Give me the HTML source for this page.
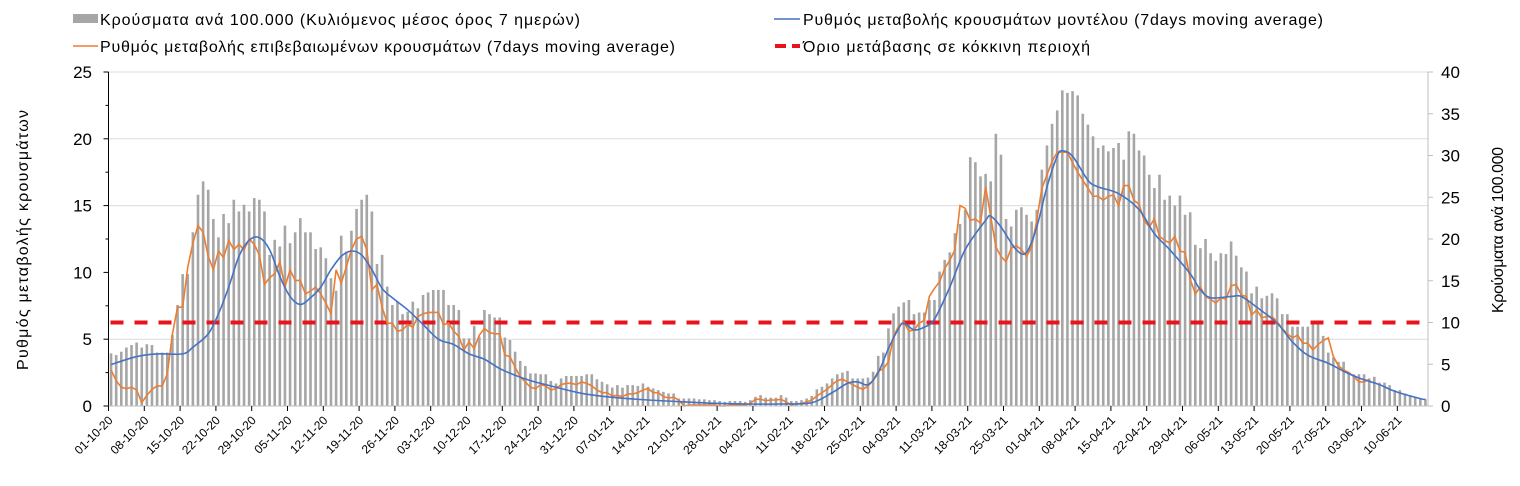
<!DOCTYPE html>
<html><head><meta charset="utf-8">
<style>
html,body{margin:0;padding:0;background:#fff;}
svg{display:block;font-family:"Liberation Sans",Arial,sans-serif;}
</style></head>
<body>
<svg id="chart" width="1520" height="486" viewBox="0 0 1520 486" xmlns="http://www.w3.org/2000/svg">
  <g id="grid"></g>
  <g id="bars"></g>
  <path id="threshold" fill="none" stroke="#e8141b" stroke-width="4" stroke-dasharray="13 11"/>
  <path id="orange" fill="none" stroke="#ed7d31" stroke-width="1.6"/>
  <path id="blue" fill="none" stroke="#4472c4" stroke-width="1.6"/>
  <g id="axes"></g>
  <text transform="translate(28,240) rotate(-90)" text-anchor="middle" font-size="16" textLength="260" fill="#000">Ρυθμός μεταβολής κρουσμάτων</text>
  <text transform="translate(1503,230) rotate(-90)" text-anchor="middle" font-size="16" textLength="166" fill="#000">Κρούσματα ανά 100.000</text>
  <g>
    <g>
      <rect x="73" y="14" width="25" height="9" fill="#a6a6a6"/>
      <text x="100" y="25" font-size="16" textLength="480" fill="#000">Κρούσματα ανά 100.000 (Κυλιόμενος μέσος όρος 7 ημερών)</text>
    </g>
    <g>
      <line x1="73" y1="46" x2="98" y2="46" stroke="#ed7d31" stroke-width="1.6"/>
      <text x="100" y="52" font-size="16" textLength="575" fill="#000">Ρυθμός μεταβολής επιβεβαιωμένων κρουσμάτων (7days moving average)</text>
    </g>
    <g>
      <line x1="774" y1="19" x2="800" y2="19" stroke="#4472c4" stroke-width="1.6"/>
      <text x="803" y="25" font-size="16" textLength="520" fill="#000">Ρυθμός μεταβολής κρουσμάτων μοντέλου (7days moving average)</text>
    </g>
    <g>
      <line x1="775" y1="46" x2="800" y2="46" stroke="#e8141b" stroke-width="4" stroke-dasharray="11 6"/>
      <text x="803" y="52" font-size="16" textLength="287" fill="#000">Όριο μετάβασης σε κόκκινη περιοχή</text>
    </g>
  </g>
</svg>
<script>
// ---- data ----
const barValues = [
6.3,6.1,6.5,7.0,7.3,7.6,7.0,7.4,7.3,6.4,
6.4,6.4,8.5,12.1,15.8,15.8,20.8,25.3,26.9,25.9,
22.4,20.2,23.0,21.9,24.7,23.3,24.1,23.3,24.9,24.7,
23.3,18.1,19.9,19.1,21.6,19.5,20.8,22.5,20.8,20.8,
18.8,19.0,17.7,15.3,13.8,20.4,18.5,21.0,23.6,24.7,
25.3,23.3,17.0,18.1,14.3,12.1,12.5,11.0,11.3,12.5,
11.7,13.3,13.6,13.9,13.9,13.9,12.1,12.1,11.5,8.1,
8.1,9.6,8.3,
11.5,11.0,10.6,10.6,8.2,7.9,6.5,5.4,4.8,3.9,
3.9,3.8,3.8,3.0,2.7,3.3,3.6,3.6,3.6,3.6,
3.8,3.8,3.2,2.9,2.6,2.2,2.5,2.2,2.5,2.5,
2.4,2.7,2.3,2.1,1.9,1.7,1.5,1.5,0.9,0.9,
0.9,0.9,0.8,0.8,0.7,0.7,0.6,0.5,0.6,0.6,
0.6,0.5,0.7,1.1,1.3,1.0,1.0,1.0,1.3,1.0,
0.6,0.6,0.7,0.9,1.2,2.0,2.3,2.7,3.3,3.8,
4.0,4.2,3.3,3.3,3.3,3.4,4.1,6.0,6.4,9.3,
11.1,11.9,
12.4,12.7,11.0,11.2,11.2,12.7,12.7,16.1,17.5,18.4,
20.7,21.8,23.5,29.8,29.2,27.5,27.8,26.9,32.6,30.1,
22.4,21.5,23.5,23.8,22.9,22.1,23.5,28.3,31.2,33.8,
35.4,37.8,37.5,37.7,37.2,35.0,33.7,32.3,30.9,31.2,
30.5,30.9,31.5,29.5,32.9,32.6,30.6,30.0,27.7,26.1,
27.7,24.7,25.2,24.0,25.2,22.9,23.2,19.3,18.9,20.0,
18.3,17.4,18.3,18.2,19.7,18.0,16.6,16.1,13.5,14.3,
12.9,13.2,13.5,12.9,11.0,11.0,9.5,9.5,9.5,9.5,
10.1,10.1,8.4,6.4,5.8,5.3,5.3,4.1,3.8,3.8,
3.8,3.3,3.5,2.8,2.8,2.5,1.9,1.9,1.5,1.3,
1.1,0.9,0.8
];
const orangeValues = [
2.7,1.9,1.4,1.3,1.4,1.2,0.25,0.8,1.25,1.5,
1.5,2.4,5.4,7.4,7.4,10.4,12.2,13.5,13.0,11.2,
10.2,11.6,11.1,12.4,11.7,12.1,11.7,12.5,12.1,11.3,
9.1,9.6,9.9,10.8,8.9,10.2,9.4,9.4,8.4,8.6,
8.9,8.4,7.7,6.9,10.2,9.2,10.4,11.7,12.5,12.7,
11.7,8.7,9.1,7.4,6.2,6.2,5.6,5.7,6.1,5.9,
6.7,6.9,7.0,7.0,7.0,6.1,6.2,5.6,5.2,4.2,
4.8,4.3,5.3,
5.8,5.5,5.4,5.4,3.8,3.7,2.9,2.2,1.8,1.4,
1.3,1.6,1.5,1.2,1.3,1.6,1.7,1.7,1.6,1.8,
1.7,1.5,1.2,1.0,1.0,0.75,0.8,0.7,0.9,0.9,
1.0,1.2,1.3,1.0,1.0,0.7,0.6,0.65,0.45,0.0,
0.07,0.07,0.07,0.07,0.07,0.07,0.0,0.0,0.05,0.1,
0.1,0.05,0.2,0.5,0.5,0.4,0.45,0.45,0.5,0.3,
0.07,0.15,0.2,0.3,0.45,0.75,1.0,1.25,1.6,1.9,
2.0,1.8,1.6,1.4,1.25,1.5,1.9,2.6,2.8,3.3,
5.2,
6.0,6.3,5.6,5.7,6.2,6.4,8.2,8.8,9.3,10.3,
10.9,11.7,15.0,14.8,13.9,14.0,13.7,16.4,14.2,11.9,
11.2,10.8,11.8,12.0,11.7,11.2,11.9,13.9,16.3,17.3,18.3,
19.0,19.0,19.0,18.2,17.5,16.9,16.3,15.7,15.7,15.4,
15.7,15.8,15.0,16.5,16.5,15.4,15.1,13.9,13.4,14.0,
12.7,12.4,12.2,12.7,11.6,11.5,9.5,8.4,8.9,8.2,
8.0,7.7,8.1,8.0,9.0,9.1,8.3,8.2,6.8,7.2,6.6,
6.7,6.7,6.3,5.8,5.4,5.1,5.3,4.7,4.7,4.2,
4.6,4.9,5.1,3.7,3.0,2.7,2.5,2.2,1.8,1.8,2.0
];
const blueDays = [0,5,9,14,16,19,21,23,25,27,29,31,33,35,37,39,41,43,45,47,49,51,53,55,58,61,64,67,70,73,76,79,82,85,92,98,105,111,118,124,131,137,141,144,146,148,150,152,154,155,157,159,161,164,167,171,172,174,177,179,181,183,185,186,188,191,193,197,201,204,207,211,213,215,219,221,224,228,231,234,238,241,244,248,251,256,257];
const blueValues = [3.1,3.7,3.9,3.9,4.4,5.4,6.9,8.9,11.2,12.4,12.6,11.7,9.7,8.2,7.6,8.1,8.9,10.2,11.2,11.6,11.3,10.2,8.8,8.1,7.2,6.1,5.0,4.6,3.9,3.5,2.8,2.3,1.9,1.6,0.95,0.65,0.45,0.33,0.2,0.15,0.15,0.25,1.0,1.7,1.8,1.6,2.5,4.3,5.8,6.2,5.7,5.9,6.5,8.9,11.7,13.9,14.2,13.4,11.7,11.5,13.4,16.4,18.7,19.1,18.7,16.9,16.4,15.9,14.7,12.9,11.7,9.9,8.7,8.1,8.2,8.2,7.4,6.2,4.8,3.8,3.2,2.6,2.1,1.6,1.1,0.55,0.5];
const thresholdValue = 10; // right axis (cases per 100.000)
const leftTicks = [0,5,10,15,20,25];
const rightTicks = [0,5,10,15,20,25,30,35,40];
const gridValues = [5,15,20,25];
const dateLabels = ["01-10-20","08-10-20","15-10-20","22-10-20","29-10-20","05-11-20","12-11-20","19-11-20","26-11-20","03-12-20","10-12-20","17-12-20","24-12-20","31-12-20","07-01-21","14-01-21","21-01-21","28-01-21","04-02-21","11-02-21","18-02-21","25-02-21","04-03-21","11-03-21","18-03-21","25-03-21","01-04-21","08-04-21","15-04-21","22-04-21","29-04-21","06-05-21","13-05-21","20-05-21","27-05-21","03-06-21","10-06-21"];

// ---- scales ----
const X0 = 108.5, X1 = 1428, Y0 = 406, YT = 72, NDAYS = 258;
const dayW = (X1 - X0) / NDAYS;
const xDay = d => X0 + (d + 0.5) * dayW;
const xEdge = d => X0 + d * dayW;
const yL = v => Y0 - v / 25 * (Y0 - YT);
const yR = v => Y0 - v / 40 * (Y0 - YT);
const NS = "http://www.w3.org/2000/svg";
function mk(tag, attrs, parent) {
  const e = document.createElementNS(NS, tag);
  for (const k in attrs) e.setAttribute(k, attrs[k]);
  parent.appendChild(e);
  return e;
}

// grid
const grid = document.getElementById('grid');
gridValues.forEach(v => {
  const l = mk('line', {x1: X0, x2: X1, y1: yL(v), y2: yL(v), stroke: '#dcdcdc', 'stroke-width': 1}, grid);
  
  
});

// bars
const barsG = document.getElementById('bars');
barValues.forEach((v, i) => {
  const r = mk('rect', {x: xDay(i) - 1.3, y: yR(v), width: 2.6, height: Y0 - yR(v), fill: '#a6a6a6'}, barsG);
  
  
});

// threshold
document.getElementById('threshold').setAttribute('d', `M${X0 + 2},${yR(thresholdValue)} L${X1 - 6},${yR(thresholdValue)}`);

// orange line
document.getElementById('orange').setAttribute('d', orangeValues.map((v, i) => (i ? 'L' : 'M') + xDay(i).toFixed(2) + ',' + yL(v).toFixed(2)).join(' '));

// blue smooth line (Catmull-Rom)
(function () {
  const pts = blueDays.map((d, i) => [xDay(d), yL(blueValues[i])]);
  let d = `M${pts[0][0]},${pts[0][1]}`;
  for (let i = 0; i < pts.length - 1; i++) {
    const p0 = pts[Math.max(0, i - 1)], p1 = pts[i], p2 = pts[i + 1], p3 = pts[Math.min(pts.length - 1, i + 2)];
    const c1 = [p1[0] + (p2[0] - p0[0]) / 6, p1[1] + (p2[1] - p0[1]) / 6];
    const c2 = [p2[0] - (p3[0] - p1[0]) / 6, p2[1] - (p3[1] - p1[1]) / 6];
    d += ` C${c1[0].toFixed(2)},${c1[1].toFixed(2)} ${c2[0].toFixed(2)},${c2[1].toFixed(2)} ${p2[0].toFixed(2)},${p2[1].toFixed(2)}`;
  }
  document.getElementById('blue').setAttribute('d', d);
})();

// axes
const axes = document.getElementById('axes');
const la = mk('line', {x1: X0, x2: X0, y1: YT, y2: Y0, stroke: '#000', 'stroke-width': 1}, axes);


const ra = mk('line', {x1: X1, x2: X1, y1: YT, y2: Y0, stroke: '#bfbfbf', 'stroke-width': 1}, axes);


const ba = mk('line', {x1: X0, x2: X1, y1: Y0, y2: Y0, stroke: '#bfbfbf', 'stroke-width': 1}, axes);



leftTicks.forEach(v => {
  mk('line', {x1: X0 - 5, x2: X0, y1: yL(v), y2: yL(v), stroke: '#000', 'stroke-width': 1}, axes);
  if (v < 25) mk('line', {x1: X0 - 3, x2: X0, y1: yL(v + 2.5), y2: yL(v + 2.5), stroke: '#000', 'stroke-width': 1}, axes);
  const t = mk('text', {x: 92, y: yL(v) + 6, 'text-anchor': 'end', 'font-size': 17, fill: '#000'}, axes);
  t.textContent = v;
  
  
});
rightTicks.forEach(v => {
  mk('line', {x1: X1, x2: X1 + 5, y1: yR(v), y2: yR(v), stroke: '#bfbfbf', 'stroke-width': 1}, axes);
  const t = mk('text', {x: 1441, y: yR(v) + 6, 'text-anchor': 'start', 'font-size': 17, fill: '#000'}, axes);
  t.textContent = v;
  
  
});
dateLabels.forEach((lab, k) => {
  const x = xEdge(k * 7);
  mk('line', {x1: x, x2: x, y1: Y0, y2: Y0 + 5, stroke: '#000', 'stroke-width': 1}, axes);
  const t = mk('text', {transform: `translate(${x + 5},${Y0 + 15}) rotate(-45)`, 'text-anchor': 'end', 'font-size': 12, fill: '#000'}, axes);
  t.textContent = lab;
  
  
});
</script>
</body></html>
